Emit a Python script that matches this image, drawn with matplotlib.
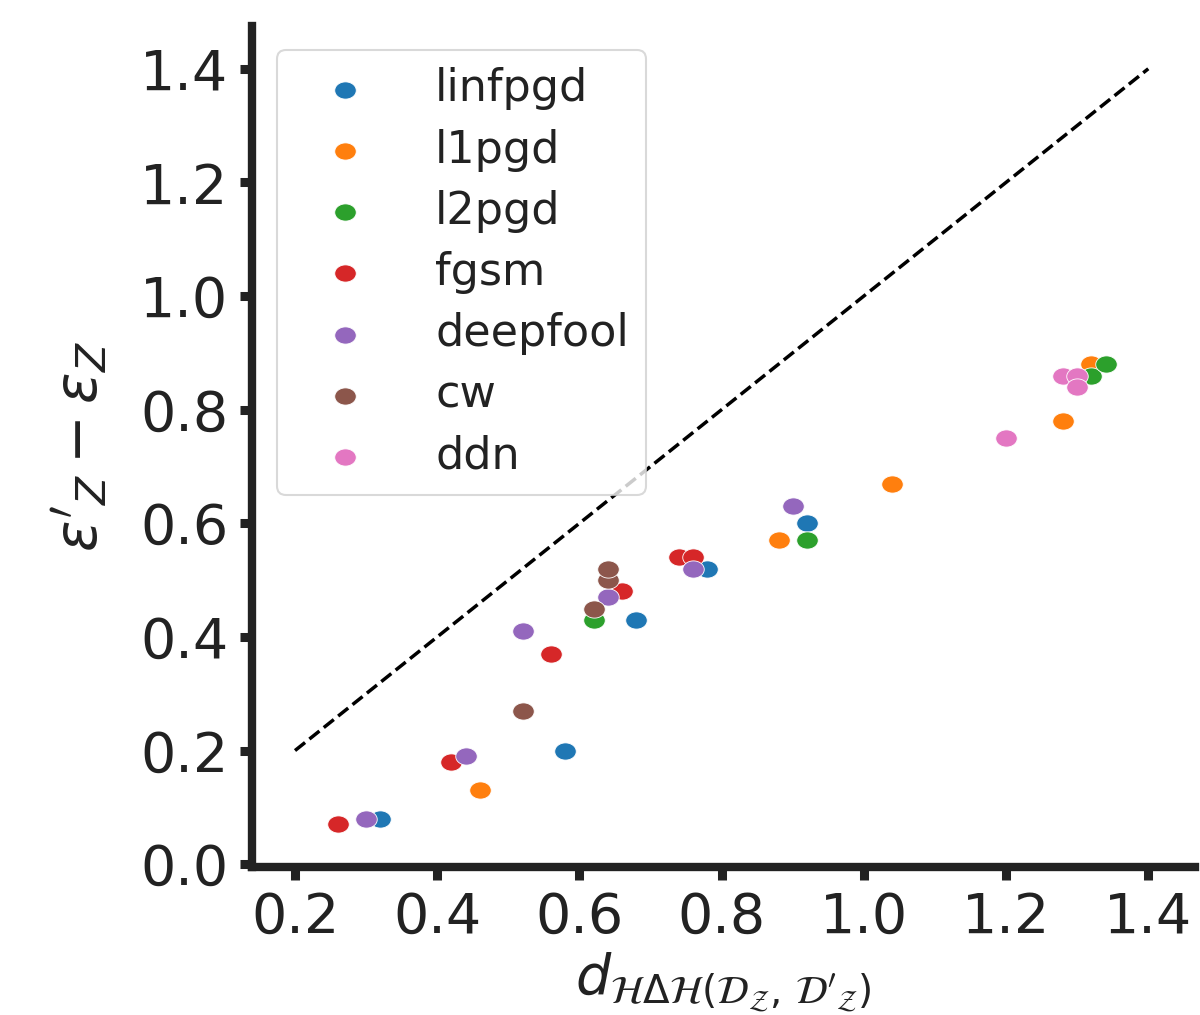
import numpy as np
import matplotlib
matplotlib.use("Agg")
import matplotlib.pyplot as plt
from matplotlib.path import Path

series_names = ["linfpgd", "l1pgd", "l2pgd", "fgsm", "deepfool", "cw", "ddn"]
colors = ["#1f77b4", "#ff7f0e", "#2ca02c", "#d62728", "#9467bd", "#8c564b", "#e377c2"]

linfpgd_x = [0.32, 0.58, 0.68, 0.78, 0.92]
linfpgd_y = [0.08, 0.20, 0.43, 0.52, 0.60]
l1pgd_x = [0.46, 0.88, 1.04, 1.28, 1.32]
l1pgd_y = [0.13, 0.57, 0.67, 0.78, 0.88]
l2pgd_x = [0.62, 0.92, 1.32, 1.34]
l2pgd_y = [0.43, 0.57, 0.86, 0.88]
fgsm_x = [0.26, 0.42, 0.56, 0.66, 0.74, 0.76]
fgsm_y = [0.07, 0.18, 0.37, 0.48, 0.54, 0.54]
deepfool_x = [0.30, 0.44, 0.52, 0.64, 0.76, 0.90]
deepfool_y = [0.08, 0.19, 0.41, 0.47, 0.52, 0.63]
cw_x = [0.52, 0.62, 0.64, 0.64]
cw_y = [0.27, 0.45, 0.50, 0.52]
ddn_x = [1.20, 1.28, 1.30, 1.30]
ddn_y = [0.75, 0.86, 0.86, 0.84]

diag = [0.2, 1.4]

data = [(linfpgd_x, linfpgd_y), (l1pgd_x, l1pgd_y), (l2pgd_x, l2pgd_y),
        (fgsm_x, fgsm_y), (deepfool_x, deepfool_y), (cw_x, cw_y), (ddn_x, ddn_y)]

# slightly wide ellipse marker
t = np.linspace(0, 2 * np.pi, 60)
verts = np.column_stack([np.cos(t), 0.8 * np.sin(t)])
ell = Path(verts, closed=True)

fig = plt.figure(figsize=(12, 10.15), dpi=100)
ax = fig.add_axes([0.21, 0.1458, 0.786, 0.829])

for (xs, ys), name, c in zip(data, series_names, colors):
    ax.scatter(xs, ys, s=240, marker=ell, color=c, edgecolors="white",
               linewidths=0.6, label=name, zorder=3)

ax.plot(diag, diag, color="black", linestyle="--", linewidth=2.5, zorder=2)

ax.set_xlim(0.1395, 1.466)
ax.set_ylim(-0.005, 1.476)
ax.set_xticks([0.2, 0.4, 0.6, 0.8, 1.0, 1.2, 1.4])
ax.set_yticks([0.0, 0.2, 0.4, 0.6, 0.8, 1.0, 1.2, 1.4])
ax.set_xticklabels(["0.2", "0.4", "0.6", "0.8", "1.0", "1.2", "1.4"])
ax.set_yticklabels(["0.0", "0.2", "0.4", "0.6", "0.8", "1.0", "1.2", "1.4"])

for side in ["top", "right"]:
    ax.spines[side].set_visible(False)
for side in ["left", "bottom"]:
    ax.spines[side].set_linewidth(6.0)
    ax.spines[side].set_color("#222222")

ax.tick_params(axis="both", length=9, width=6.5, color="#222222",
               labelsize=40, labelcolor="#222222", pad=8)

ax.set_xlabel(r"$d_{\mathcal{H}\Delta\mathcal{H}(\mathcal{D}_\mathcal{Z},\,\mathcal{D}'_\mathcal{Z})}$",
              fontsize=40, color="#222222", labelpad=4)
ax.set_ylabel(r"$\epsilon'_Z - \epsilon_Z$", fontsize=42, color="#222222", labelpad=22)

leg = ax.legend(loc="upper left", fontsize=32, frameon=True, borderaxespad=0.56,
                borderpad=0.38, labelspacing=0.41, handlelength=2.3,
                handletextpad=0.88, scatterpoints=1)
leg.get_frame().set_edgecolor("#d0d0d0")
leg.get_frame().set_linewidth(1.5)
for t_ in leg.get_texts():
    t_.set_color("#222222")

fig.savefig("out.png", dpi=100)
